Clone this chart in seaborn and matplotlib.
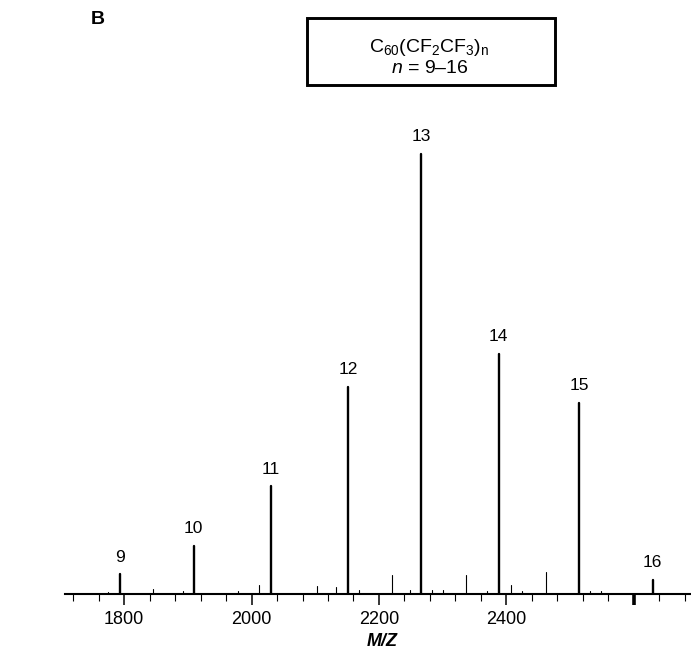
"""Mass spectrum of C60(CF2CF3)n, n = 9-16, redrawn as a stick plot."""
import matplotlib
matplotlib.use("Agg")
import matplotlib.pyplot as plt
import numpy as np
import pandas as pd
import seaborn as sns
from matplotlib.patches import Rectangle
from matplotlib.ticker import MultipleLocator

# -------------------- data --------------------
peak_n = [9, 10, 11, 12, 13, 14, 15, 16]
peak_mz = [1793, 1909, 2030, 2152, 2266, 2388, 2514, 2630]
peak_int = [4.4, 10.8, 24.4, 47.0, 100.0, 54.5, 43.4, 3.1]

minor_mz = [1774, 1845, 1892, 1978, 2011, 2103, 2133, 2168, 2220, 2249,
            2284, 2300, 2337, 2369, 2408, 2425, 2462, 2532, 2548]
minor_int = [0.3, 1.1, 0.6, 0.5, 2.0, 1.7, 1.4, 0.8, 4.2, 0.7,
             0.9, 0.8, 4.1, 0.5, 2.0, 0.5, 4.8, 0.5, 0.5]

major_ticks = [1800, 2000, 2200, 2400, 2600]
major_labels = ["1800", "2000", "2200", "2400", ""]

# -------------------- long table: one vertical stick per peak --------------------
rows = []
for i, (mz, h) in enumerate(zip(peak_mz, peak_int)):
    rows += [(f"p{i}", mz, 0.0, "main"), (f"p{i}", mz, h, "main")]
for i, (mz, h) in enumerate(zip(minor_mz, minor_int)):
    rows += [(f"m{i}", mz, 0.0, "minor"), (f"m{i}", mz, h, "minor")]
spec = pd.DataFrame(rows, columns=["peak", "mz", "intensity", "kind"])

sns.set_theme(style="ticks")
plt.rcParams["font.family"] = ["Liberation Sans", "DejaVu Sans"]
plt.rcParams["mathtext.fontset"] = "custom"
plt.rcParams["mathtext.rm"] = "Liberation Sans"
plt.rcParams["mathtext.it"] = "Liberation Sans:italic"
plt.rcParams["text.color"] = "black"
plt.rcParams["axes.labelcolor"] = "black"

W, H = 691, 652
fig = plt.figure(figsize=(W / 100, H / 100), dpi=100)
ax = fig.add_axes([65 / W, 58.5 / H, 626 / W, 484 / H])

sns.lineplot(data=spec, x="mz", y="intensity", units="peak", estimator=None,
             size="kind", sizes={"main": 1.7, "minor": 0.8}, color="black",
             sort=False, legend=False, ax=ax)

ax.set_xlim(1707, 2690)
ax.set_ylim(0, 110)
ax.set_yticks([])
ax.set_ylabel("")
ax.set_xlabel("")
sns.despine(ax=ax, left=True)
ax.spines["bottom"].set_linewidth(1.5)
ax.spines["bottom"].set_color("black")
ax.patch.set_alpha(0)

ax.set_xticks(major_ticks)
ax.set_xticklabels(major_labels)
ax.xaxis.set_minor_locator(MultipleLocator(40))
ax.tick_params(axis="x", which="major", direction="out", length=8, width=1.1,
               labelsize=13, pad=4.5, color="black", labelcolor="black")
ax.tick_params(axis="x", which="minor", direction="out", length=5, width=0.8,
               color="black")
# the 2600 tick is heavier in the original
ax.xaxis.get_major_ticks()[-1].tick1line.set_markeredgewidth(2.6)

for n, mz, h in zip(peak_n, peak_mz, peak_int):
    ax.annotate(str(n), (mz, h), xytext=(0, 12.3), textcoords="offset points",
                ha="center", va="center", fontsize=12.5, color="black")

fig.text(382 / W, 1 - 642 / H, "M/Z", ha="center", va="center",
         fontsize=13, fontweight="bold", fontstyle="italic")
fig.text(97.5 / W, 1 - 20 / H, "B", ha="center", va="center",
         fontsize=14, fontweight="bold")

# formula box
fig.patches.append(Rectangle((307 / W, 1 - 85 / H), 248 / W, 67.3 / H,
                             transform=fig.transFigure, fill=False,
                             edgecolor="black", linewidth=2.1))
fig.text(429.5 / W, 1 - 51.7 / H, r"C$_{60}$(CF$_2$CF$_3$)$_\mathrm{n}$",
         ha="center", va="baseline", fontsize=14)
fig.text(429.5 / W, 1 - 73.3 / H, r"$n$ = 9–16",
         ha="center", va="baseline", fontsize=14)

fig.savefig("out.png", dpi=100, facecolor="white")
